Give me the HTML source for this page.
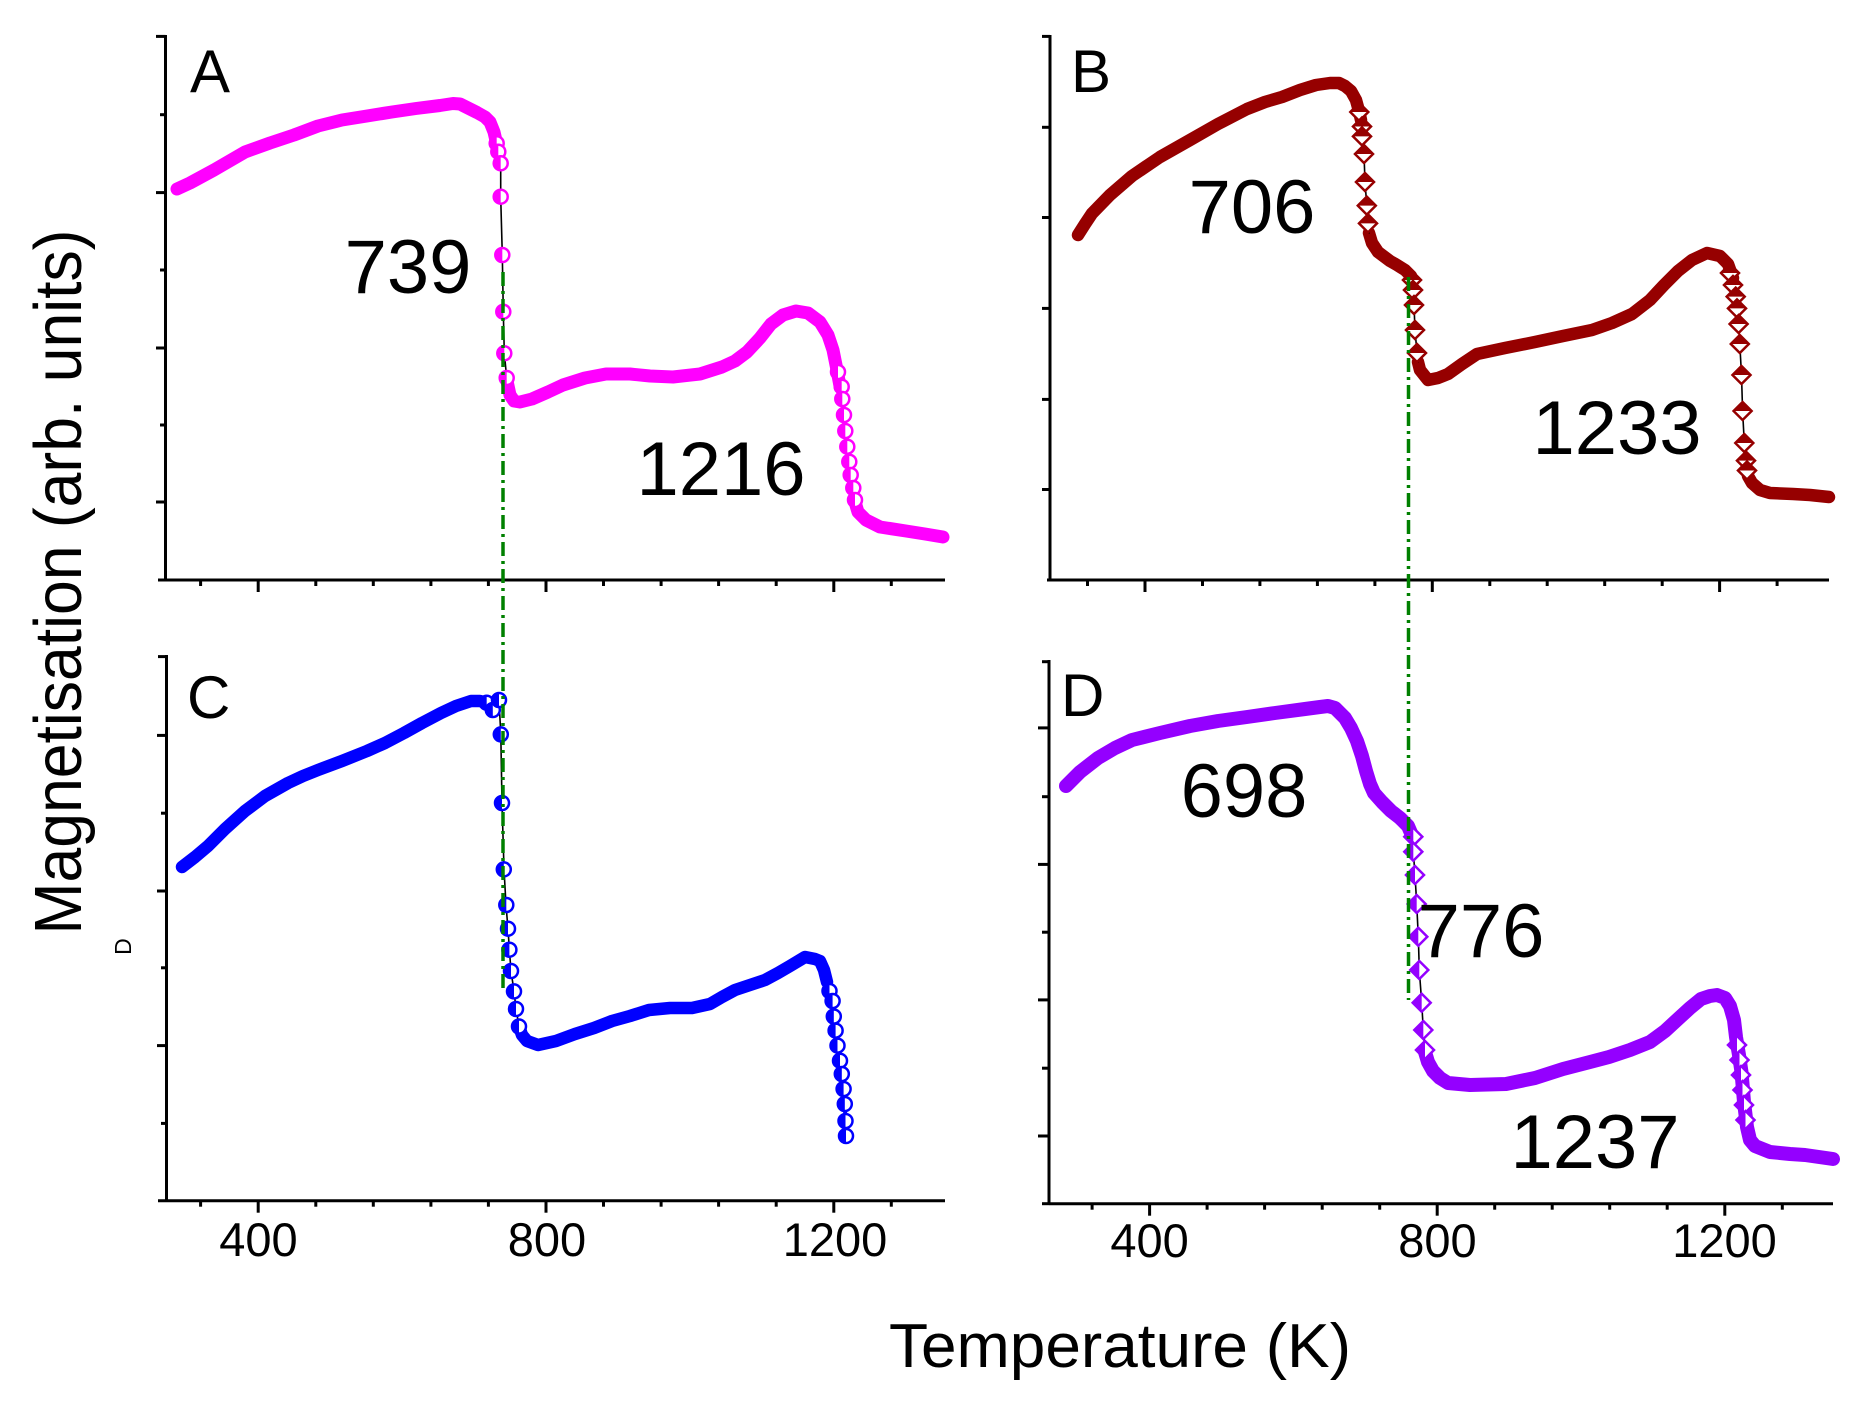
<!DOCTYPE html>
<html>
<head>
<meta charset="utf-8">
<style>
html,body{margin:0;padding:0;background:#fff;}
svg{display:block;}
text{font-family:"Liberation Sans",Arial,sans-serif;fill:#000;}
</style>
</head>
<body>
<svg width="1861" height="1407" viewBox="0 0 1861 1407" xmlns="http://www.w3.org/2000/svg">
<defs>
  <g id="cA"><circle r="7" fill="#fff" stroke="#FF00FF" stroke-width="2.5"/><path d="M0,-7 A7,7 0 0 0 0,7 Z" fill="#FF00FF"/></g>
  <g id="cC"><circle r="7" fill="#fff" stroke="#0000FF" stroke-width="2.5"/><path d="M0,-7 A7,7 0 0 0 0,7 Z" fill="#0000FF"/></g>
  <g id="dB"><polygon points="0,-9 9,0 0,9 -9,0" fill="#fff" stroke="#960000" stroke-width="2.5"/><polygon points="0,-9 9,0 -9,0" fill="#960000"/></g>
  <g id="dD"><polygon points="0,-9 9,0 0,9 -9,0" fill="#fff" stroke="#9400FF" stroke-width="2.5"/><polygon points="0,-9 0,9 -9,0" fill="#9400FF"/></g>
</defs>

<!-- ===== Axes ===== -->
<g stroke="#000" stroke-width="3" fill="none">
  <!-- Panel A -->
  <line x1="165.5" y1="35" x2="165.5" y2="581.5"/>
  <line x1="158" y1="580" x2="945" y2="580"/>
  <!-- Panel C -->
  <line x1="166.5" y1="655" x2="166.5" y2="1202"/>
  <line x1="158" y1="1200.7" x2="945" y2="1200.7"/>
  <!-- Panel B -->
  <line x1="1050" y1="35" x2="1050" y2="581.5"/>
  <line x1="1047" y1="580" x2="1829" y2="580"/>
  <!-- Panel D -->
  <line x1="1049" y1="660" x2="1049" y2="1205"/>
  <line x1="1049" y1="1203.7" x2="1833" y2="1203.7"/>
</g>

<!-- Y ticks -->
<g stroke="#000" stroke-width="3">
  <!-- A -->
  <line x1="156" y1="36.4" x2="165.5" y2="36.4"/>
  <line x1="160" y1="114.7" x2="165.5" y2="114.7"/>
  <line x1="156" y1="192.6" x2="165.5" y2="192.6"/>
  <line x1="160" y1="270" x2="165.5" y2="270"/>
  <line x1="156" y1="348" x2="165.5" y2="348"/>
  <line x1="160" y1="425" x2="165.5" y2="425"/>
  <line x1="156" y1="502" x2="165.5" y2="502"/>
  <!-- C -->
  <line x1="158" y1="656.6" x2="166.5" y2="656.6"/>
  <line x1="157" y1="735.4" x2="166.5" y2="735.4"/>
  <line x1="161" y1="813.2" x2="166.5" y2="813.2"/>
  <line x1="157" y1="891" x2="166.5" y2="891"/>
  <line x1="161" y1="967.8" x2="166.5" y2="967.8"/>
  <line x1="157" y1="1045.6" x2="166.5" y2="1045.6"/>
  <line x1="161" y1="1123.4" x2="166.5" y2="1123.4"/>
  <!-- B -->
  <line x1="1042" y1="36.4" x2="1050" y2="36.4"/>
  <line x1="1042" y1="127.3" x2="1050" y2="127.3"/>
  <line x1="1042" y1="217.5" x2="1050" y2="217.5"/>
  <line x1="1042" y1="308.4" x2="1050" y2="308.4"/>
  <line x1="1042" y1="399.4" x2="1050" y2="399.4"/>
  <line x1="1042" y1="489.5" x2="1050" y2="489.5"/>
  <!-- D -->
  <line x1="1042" y1="661.7" x2="1049" y2="661.7"/>
  <line x1="1038" y1="727.9" x2="1049" y2="727.9"/>
  <line x1="1042" y1="796.7" x2="1049" y2="796.7"/>
  <line x1="1038" y1="864.4" x2="1049" y2="864.4"/>
  <line x1="1042" y1="932.2" x2="1049" y2="932.2"/>
  <line x1="1038" y1="999.9" x2="1049" y2="999.9"/>
  <line x1="1042" y1="1068.2" x2="1049" y2="1068.2"/>
  <line x1="1038" y1="1136" x2="1049" y2="1136"/>
  <line x1="1042" y1="1203.7" x2="1049" y2="1203.7"/>
</g>

<!-- X ticks -->
<g stroke="#000" stroke-width="3">
  <!-- A (y=580) -->
  <line x1="200.6" y1="580" x2="200.6" y2="586"/>
  <line x1="258.2" y1="580" x2="258.2" y2="592"/>
  <line x1="315.8" y1="580" x2="315.8" y2="586"/>
  <line x1="373.3" y1="580" x2="373.3" y2="586"/>
  <line x1="430.9" y1="580" x2="430.9" y2="586"/>
  <line x1="488.4" y1="580" x2="488.4" y2="586"/>
  <line x1="546" y1="580" x2="546" y2="592"/>
  <line x1="603.5" y1="580" x2="603.5" y2="586"/>
  <line x1="661.1" y1="580" x2="661.1" y2="586"/>
  <line x1="718.6" y1="580" x2="718.6" y2="586"/>
  <line x1="776.2" y1="580" x2="776.2" y2="586"/>
  <line x1="833.8" y1="580" x2="833.8" y2="592"/>
  <line x1="891.3" y1="580" x2="891.3" y2="586"/>
  <!-- C (y=1200.7) -->
  <line x1="200.6" y1="1200.7" x2="200.6" y2="1206.7"/>
  <line x1="258.2" y1="1200.7" x2="258.2" y2="1212.7"/>
  <line x1="315.8" y1="1200.7" x2="315.8" y2="1206.7"/>
  <line x1="373.3" y1="1200.7" x2="373.3" y2="1206.7"/>
  <line x1="430.9" y1="1200.7" x2="430.9" y2="1206.7"/>
  <line x1="488.4" y1="1200.7" x2="488.4" y2="1206.7"/>
  <line x1="546" y1="1200.7" x2="546" y2="1212.7"/>
  <line x1="603.5" y1="1200.7" x2="603.5" y2="1206.7"/>
  <line x1="661.1" y1="1200.7" x2="661.1" y2="1206.7"/>
  <line x1="718.6" y1="1200.7" x2="718.6" y2="1206.7"/>
  <line x1="776.2" y1="1200.7" x2="776.2" y2="1206.7"/>
  <line x1="833.8" y1="1200.7" x2="833.8" y2="1212.7"/>
  <line x1="891.3" y1="1200.7" x2="891.3" y2="1206.7"/>
  <!-- B (y=580) -->
  <line x1="1087.5" y1="580" x2="1087.5" y2="586"/>
  <line x1="1145" y1="580" x2="1145" y2="592"/>
  <line x1="1202.5" y1="580" x2="1202.5" y2="586"/>
  <line x1="1259.9" y1="580" x2="1259.9" y2="586"/>
  <line x1="1317.4" y1="580" x2="1317.4" y2="586"/>
  <line x1="1374.9" y1="580" x2="1374.9" y2="586"/>
  <line x1="1432.3" y1="580" x2="1432.3" y2="592"/>
  <line x1="1489.8" y1="580" x2="1489.8" y2="586"/>
  <line x1="1547.2" y1="580" x2="1547.2" y2="586"/>
  <line x1="1604.7" y1="580" x2="1604.7" y2="586"/>
  <line x1="1662.2" y1="580" x2="1662.2" y2="586"/>
  <line x1="1719.6" y1="580" x2="1719.6" y2="592"/>
  <line x1="1777.1" y1="580" x2="1777.1" y2="586"/>
  <!-- D (y=1203.7) -->
  <line x1="1092.1" y1="1203.7" x2="1092.1" y2="1209.7"/>
  <line x1="1149.6" y1="1203.7" x2="1149.6" y2="1215.7"/>
  <line x1="1207.1" y1="1203.7" x2="1207.1" y2="1209.7"/>
  <line x1="1264.6" y1="1203.7" x2="1264.6" y2="1209.7"/>
  <line x1="1322.2" y1="1203.7" x2="1322.2" y2="1209.7"/>
  <line x1="1379.7" y1="1203.7" x2="1379.7" y2="1209.7"/>
  <line x1="1437.2" y1="1203.7" x2="1437.2" y2="1215.7"/>
  <line x1="1494.7" y1="1203.7" x2="1494.7" y2="1209.7"/>
  <line x1="1552.2" y1="1203.7" x2="1552.2" y2="1209.7"/>
  <line x1="1609.7" y1="1203.7" x2="1609.7" y2="1209.7"/>
  <line x1="1667.2" y1="1203.7" x2="1667.2" y2="1209.7"/>
  <line x1="1724.8" y1="1203.7" x2="1724.8" y2="1215.7"/>
  <line x1="1782.3" y1="1203.7" x2="1782.3" y2="1209.7"/>
</g>

<!-- ===== Series A (magenta) ===== -->
<g fill="none" stroke-linecap="round" stroke-linejoin="round">
  <polyline stroke="#FF00FF" stroke-width="13" points="177,189 190,183 214,170 245,152 270,143 294,135 318,126 342,120 367,116 392,112 416,108.5 440,105.5 453,103.5 460,104 468,108 477,112.5 485,117 490,122 494,132 497,145 498,152"/>
  <polyline stroke="#FF00FF" stroke-width="13" points="507,381 510,395 514,401 520,402 532,399 548,392 563,385 585,378 606,374 630,374 650,376 673,377 700,374 722,367 735,361 747,352 760,338 771,324 783,315 796,311 808,313 820,322 828,335 833,350 837,370 840,386"/>
  <polyline stroke="#FF00FF" stroke-width="13" points="855,502 858,512 866,520 880,527 906,531 925,534 943,537"/>
  <polyline stroke="#000" stroke-width="1.6" points="498,152 500.7,163 500.7,197 502.3,255 503.3,312 504.3,353 506.7,378"/>
  <polyline stroke="#FF00FF" stroke-width="5" points="840,386 842.3,399 844,415 845.3,431 847.3,447 849.3,462 850.7,475 853.3,488 855,502"/>
</g>
<use href="#cA" x="496.7" y="143.3"/>
<use href="#cA" x="498.3" y="151.7"/>
<use href="#cA" x="500.7" y="163.3"/>
<use href="#cA" x="500.7" y="196.7"/>
<use href="#cA" x="502.3" y="255"/>
<use href="#cA" x="503.3" y="311.7"/>
<use href="#cA" x="504.3" y="353.3"/>
<use href="#cA" x="506.7" y="378"/>
<use href="#cA" x="838" y="372"/>
<use href="#cA" x="841.7" y="386.7"/>
<use href="#cA" x="842.3" y="399"/>
<use href="#cA" x="844" y="415"/>
<use href="#cA" x="845.3" y="431"/>
<use href="#cA" x="847.3" y="446.7"/>
<use href="#cA" x="849.3" y="461.7"/>
<use href="#cA" x="850.7" y="475"/>
<use href="#cA" x="853.3" y="488"/>
<use href="#cA" x="855" y="500"/>

<!-- ===== Series C (blue) ===== -->
<g fill="none" stroke-linecap="round" stroke-linejoin="round">
  <polyline stroke="#0000FF" stroke-width="12.5" points="182,867 195,857 208,846 225,829 245,811 265,796 288,783 303,776 318,770 342,761 367,751 385,743 404,733 422,723 441,713 456,706 471,701 480,701 487,703"/>
  <polyline stroke="#0000FF" stroke-width="12.5" points="519,1026 522,1035 527,1041 538,1045 556,1041 575,1034 594,1028 612,1021 630,1016 649,1010 670,1008 692,1008 710,1004 722,997 735,990 750,985 765,980 778,973 790,966 805,957 815,959 820,961 824,970 827,982"/>
  <polyline stroke="#000" stroke-width="1.6" points="499,700 500.8,734 502,803 504,869 506,905 508,929 509.4,950 511,971 514,991 516,1009 519,1026"/>
  <polyline stroke="#0000FF" stroke-width="4" points="827,982 829.5,991 832.6,1001 833.8,1016.5 835.6,1030.6 837.5,1045.6 840,1060.7 841.8,1074 843.6,1089 844.8,1104 845.5,1121 846,1136"/>
</g>
<use href="#cC" x="486.7" y="702.8"/>
<use href="#cC" x="492.8" y="710"/>
<use href="#cC" x="499" y="700"/>
<use href="#cC" x="500.8" y="734.4"/>
<use href="#cC" x="502" y="803"/>
<use href="#cC" x="503.8" y="869.4"/>
<use href="#cC" x="506.3" y="905"/>
<use href="#cC" x="508" y="928.7"/>
<use href="#cC" x="509.4" y="949.7"/>
<use href="#cC" x="511" y="971"/>
<use href="#cC" x="514" y="991.4"/>
<use href="#cC" x="516" y="1009"/>
<use href="#cC" x="519" y="1026.5"/>
<use href="#cC" x="829.5" y="991"/>
<use href="#cC" x="832.6" y="1001"/>
<use href="#cC" x="833.8" y="1016.5"/>
<use href="#cC" x="835.6" y="1030.6"/>
<use href="#cC" x="837.5" y="1045.6"/>
<use href="#cC" x="840" y="1060.7"/>
<use href="#cC" x="841.8" y="1074"/>
<use href="#cC" x="843.6" y="1089"/>
<use href="#cC" x="844.8" y="1104"/>
<use href="#cC" x="845.5" y="1121"/>
<use href="#cC" x="846" y="1136"/>

<!-- ===== Series B (dark red) ===== -->
<g fill="none" stroke-linecap="round" stroke-linejoin="round">
  <polyline stroke="#960000" stroke-width="12.5" points="1078,235 1085,224 1092,213.5 1110,195 1132,176 1160,157 1190,140 1218,124 1247,109 1265,102 1282,97 1300,90 1316,85 1330,83 1339,83 1345,86 1351,91 1356,100 1359,111 1361,120"/>
  <polyline stroke="#960000" stroke-width="12.5" points="1369,233 1372,243 1378,252 1390,261 1397,265 1405,270 1411,276"/>
  <polyline stroke="#960000" stroke-width="12.5" points="1418,362 1420,370 1428,380 1438,378 1448,374 1462,364 1477,354 1505,348 1535,342 1563,336 1592,330 1612,323 1632,314 1650,300 1664,285 1678,271 1692,260 1707,253 1720,256 1728,264 1733,278"/>
  <polyline stroke="#960000" stroke-width="12.5" points="1748,476 1752,483 1760,490 1770,493 1793,494 1810,495 1829,497"/>
  <polyline stroke="#000" stroke-width="1.6" points="1359.3,118.6 1362,126.5 1362,136.4 1364,154 1365,182 1366.8,205.6 1368,223.4 1369,233"/>
  <polyline stroke="#000" stroke-width="1.6" points="1411,276 1412,280 1413,290 1414,305 1415,330 1417,353 1418,362"/>
  <polyline stroke="#000" stroke-width="1.6" points="1733,278 1735.7,296.6 1737,308.4 1738.6,324 1739.8,344 1741.5,375 1742.6,411 1744.3,443 1746,460.6 1748,476"/>
</g>
<use href="#dB" x="1359.3" y="112"/>
<use href="#dB" x="1362" y="126.5"/>
<use href="#dB" x="1362" y="136.4"/>
<use href="#dB" x="1364" y="154"/>
<use href="#dB" x="1365" y="182"/>
<use href="#dB" x="1366.8" y="205.6"/>
<use href="#dB" x="1368" y="223.4"/>
<use href="#dB" x="1412" y="280"/>
<use href="#dB" x="1413" y="290"/>
<use href="#dB" x="1414" y="305"/>
<use href="#dB" x="1415" y="330"/>
<use href="#dB" x="1417" y="353"/>
<use href="#dB" x="1730" y="273"/>
<use href="#dB" x="1733" y="285"/>
<use href="#dB" x="1735.7" y="296.6"/>
<use href="#dB" x="1737" y="308.4"/>
<use href="#dB" x="1738.6" y="324"/>
<use href="#dB" x="1739.8" y="344"/>
<use href="#dB" x="1741.5" y="375"/>
<use href="#dB" x="1742.6" y="411"/>
<use href="#dB" x="1744.3" y="443"/>
<use href="#dB" x="1746" y="460.6"/>
<use href="#dB" x="1747" y="470.5"/>

<!-- ===== Series D (violet) ===== -->
<g fill="none" stroke-linecap="round" stroke-linejoin="round">
  <polyline stroke="#9400FF" stroke-width="14" points="1066,786 1080,772 1098,758 1115,748 1132,740 1160,733 1190,726 1218,721 1247,717 1275,713 1305,709 1320,707 1328,706 1335,708 1345,718 1351,728 1357,741 1362,756 1366,771 1370,784 1374,793 1382,802 1391,811 1400,818 1408,826 1411,833"/>
  <polyline stroke="#9400FF" stroke-width="14" points="1425,1052 1428,1062 1433,1071 1440,1078 1448,1083 1470,1085 1506,1084 1535,1078 1563,1069 1590,1062 1609,1057 1630,1050 1650,1042 1665,1031 1678,1019 1690,1008 1701,999 1710,996 1717,995 1725,998 1730,1006 1734,1020 1736,1037 1739,1055 1741.5,1072 1744,1102 1747,1127 1750,1140 1755,1146 1770,1152 1790,1154 1805,1155 1833,1159"/>
  <polyline stroke="#000" stroke-width="1.6" points="1411,833 1413.3,836.7 1413.3,851.7 1415,875 1416.7,904 1418.3,936.7 1419.3,970 1421.7,1002.7 1423.3,1030 1425,1050"/>
</g>
<use href="#dD" x="1413.3" y="836.7"/>
<use href="#dD" x="1413.3" y="851.7"/>
<use href="#dD" x="1415" y="875"/>
<use href="#dD" x="1416.7" y="904"/>
<use href="#dD" x="1418.3" y="936.7"/>
<use href="#dD" x="1419.3" y="970"/>
<use href="#dD" x="1421.7" y="1002.7"/>
<use href="#dD" x="1423.3" y="1030"/>
<use href="#dD" x="1425" y="1050"/>
<use href="#dD" x="1737" y="1045"/>
<use href="#dD" x="1739.5" y="1060"/>
<use href="#dD" x="1741" y="1075"/>
<use href="#dD" x="1742.5" y="1090"/>
<use href="#dD" x="1744" y="1105"/>
<use href="#dD" x="1745.5" y="1120"/>

<!-- ===== Green dash-dot guide lines ===== -->
<g stroke="#008000" stroke-width="3.5" fill="none" stroke-dasharray="14 5 3 5">
  <line x1="503" y1="272" x2="503" y2="990"/>
  <line x1="1408.5" y1="277" x2="1408.5" y2="1000"/>
</g>

<!-- ===== Text ===== -->
<g font-size="60">
  <text x="190" y="92">A</text>
  <text x="1071" y="92">B</text>
  <text x="187" y="718">C</text>
  <text x="1061" y="716">D</text>
</g>
<g font-size="76" text-anchor="middle">
  <text x="408" y="293">739</text>
  <text x="721" y="495">1216</text>
  <text x="1252" y="233">706</text>
  <text x="1617" y="454">1233</text>
  <text x="1244" y="817">698</text>
  <text x="1481" y="957">776</text>
  <text x="1595" y="1168">1237</text>
</g>
<g font-size="47" text-anchor="middle">
  <text x="258.4" y="1256">400</text>
  <text x="547" y="1256">800</text>
  <text x="835" y="1256">1200</text>
  <text x="1149.6" y="1257">400</text>
  <text x="1437.5" y="1257">800</text>
  <text x="1724.5" y="1257">1200</text>
</g>
<text x="889" y="1367" font-size="62" textLength="462" lengthAdjust="spacingAndGlyphs">Temperature (K)</text>
<text transform="translate(81,582) rotate(-90)" font-size="67" text-anchor="middle" textLength="705" lengthAdjust="spacingAndGlyphs">Magnetisation (arb. units)</text>
<text transform="translate(131,946.5) rotate(-90)" font-size="23" text-anchor="middle">D</text>
</svg>
</body>
</html>
